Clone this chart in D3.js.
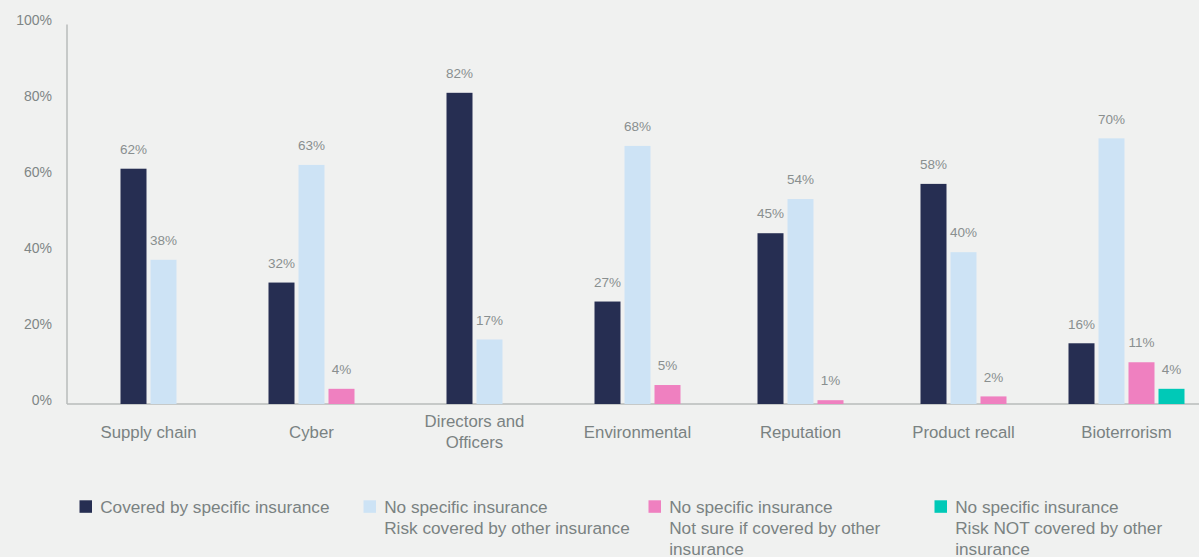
<!DOCTYPE html>
<html><head><meta charset="utf-8">
<script src="https://cdn.jsdelivr.net/npm/d3@7"></script>
<style>
html,body{margin:0;padding:0;background:#f0f1f0;}
svg{display:block;font-family:"Liberation Sans",Arial,sans-serif;}
</style></head>
<body><svg id="chart" width="1199" height="557"></svg>
<script>
const categories = [["Supply chain"],["Cyber"],["Directors and","Officers"],["Environmental"],["Reputation"],["Product recall"],["Bioterrorism"]];
const seriesNames = [
  ["Covered by specific insurance"],
  ["No specific insurance","Risk covered by other insurance"],
  ["No specific insurance","Not sure if covered by other","insurance"],
  ["No specific insurance","Risk NOT covered by other","insurance"]
];
const covered   = [62, 32, 82, 27, 45, 58, 16];
const otherIns  = [38, 63, 17, 68, 54, 40, 70];
const notSure   = [null, 4, null, 5, 1, 2, 11];
const notCovered= [null, null, null, null, null, null, 4];
const seriesValues = [covered, otherIns, notSure, notCovered];
const colors = ["#262e52", "#cde3f5", "#ef80c0", "#00c9b7"];
const yTicks = [0, 20, 40, 60, 80, 100];

const svg = d3.select("#chart");
const x0 = 67, x1 = 1208, yBase = 404, yTop = 24.5;
const x = d3.scaleBand().domain(d3.range(categories.length)).range([x0, x1]).padding(0);
const y = d3.scaleLinear().domain([0, 100]).range([yBase, yTop]);
const barW = 26, step = 30;

// axes lines
svg.append("line").attr("x1", x0).attr("x2", x0).attr("y1", y(100)).attr("y2", yBase)
  .attr("stroke", "#b9bbbb").attr("stroke-width", 1.5);
svg.append("line").attr("x1", x0).attr("x2", 1199).attr("y1", yBase).attr("y2", yBase)
  .attr("stroke", "#b9bbbb").attr("stroke-width", 1.5);

// y tick labels
svg.append("g").selectAll("text").data(yTicks).join("text")
  .attr("x", 52).attr("y", d => y(d) - 4.3).attr("dy", "0.35em")
  .attr("text-anchor", "end").attr("font-size", 14).attr("fill", "#7f8686")
  .text(d => d + "%");

// bars
categories.forEach((c, i) => {
  const present = seriesValues.map((s, k) => ({k, v: s[i]})).filter(d => d.v != null);
  const n = present.length;
  const groupW = n * step - (step - barW);
  const cx = x(i) + x.bandwidth() / 2;
  const start = cx - groupW / 2;
  const g = svg.append("g");
  g.selectAll("rect").data(present).join("rect")
    .attr("x", (d, j) => start + j * step)
    .attr("y", d => y(d.v))
    .attr("width", barW)
    .attr("height", d => yBase - y(d.v))
    .attr("fill", d => colors[d.k]);
  g.selectAll("text").data(present).join("text")
    .attr("x", (d, j) => start + j * step + barW / 2)
    .attr("y", d => y(d.v) - 19.5).attr("dy", "0.35em")
    .attr("text-anchor", "middle").attr("font-size", 13.5).attr("fill", "#898f8f")
    .text(d => d.v + "%");
  // category label
  const lines = c;
  const lh = 21;
  const t = svg.append("text").attr("text-anchor", "middle").attr("font-size", 16.8).attr("fill", "#7a8282");
  lines.forEach((l, li) => {
    t.append("tspan").attr("x", cx)
      .attr("y", 432 + (li - (lines.length - 1) / 2) * lh).attr("dy", "0.35em").text(l);
  });
});

// legend
const legX = [79.5, 363.5, 648.5, 934.5];
seriesNames.forEach((lines, k) => {
  svg.append("rect").attr("x", legX[k]).attr("y", 500.3).attr("width", 12.5).attr("height", 12.5).attr("fill", colors[k]);
  const t = svg.append("text").attr("font-size", 17.2).attr("fill", "#7a8282");
  lines.forEach((l, li) => {
    t.append("tspan").attr("x", legX[k] + 20.7).attr("y", 506.7 + li * 21.3).attr("dy", "0.35em").text(l);
  });
});
</script>
</body></html>
